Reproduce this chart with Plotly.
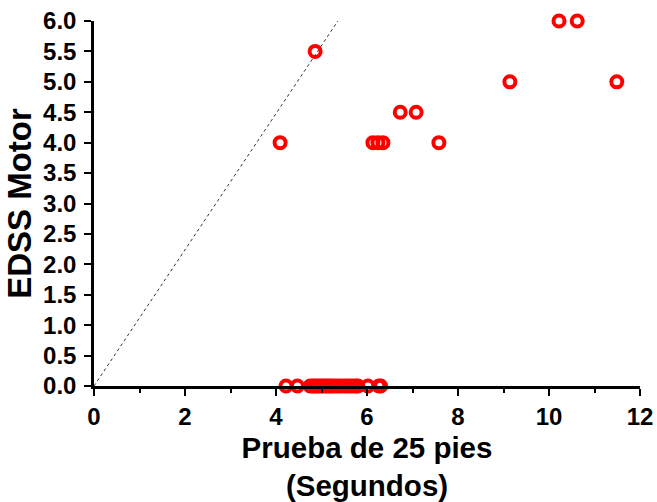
import plotly.graph_objects as go

# Data
x_upper = [4.09, 4.86, 6.13, 6.24, 6.35, 6.73, 7.08, 7.58, 9.14, 10.22, 10.62, 11.49]
y_upper = [4.0, 5.5, 4.0, 4.0, 4.0, 4.5, 4.5, 4.0, 5.0, 6.0, 6.0, 5.0]

x_zero = [4.22, 4.47, 4.75, 4.8, 4.85, 4.9, 4.95, 5.0, 5.05, 5.1, 5.15, 5.2,
          5.26, 5.32, 5.38, 5.45, 5.52, 5.58, 5.64, 5.7, 5.76, 5.8, 6.02, 6.26, 6.3]
y_zero = [0.0] * len(x_zero)

line_x = [0.0, 5.36]
line_y = [0.0, 6.0]

x_ticks = [0, 2, 4, 6, 8, 10, 12]
y_ticks = [0.0, 0.5, 1.0, 1.5, 2.0, 2.5, 3.0, 3.5, 4.0, 4.5, 5.0, 5.5, 6.0]

FAM = "Liberation Sans, Arial, sans-serif"

fig = go.Figure()
fig.add_trace(go.Scatter(x=line_x, y=line_y, mode="lines",
                         line=dict(color="#333333", width=1, dash="dot"),
                         hoverinfo="skip", showlegend=False))
fig.add_trace(go.Scatter(x=x_zero + x_upper, y=y_zero + y_upper, mode="markers",
                         marker=dict(symbol="circle-open", size=11, color="#ff0000",
                                     line=dict(width=4, color="#ff0000")),
                         cliponaxis=False, showlegend=False))

fig.update_layout(
    width=657, height=502,
    margin=dict(l=94, r=17, t=21, b=116),
    plot_bgcolor="white", paper_bgcolor="white",
    font=dict(family=FAM, color="black"),
    xaxis=dict(range=[0, 12], tickvals=x_ticks, ticktext=[f"<b>{v}</b>" for v in x_ticks],
               showline=True, linecolor="black", linewidth=2.5, ticks="outside",
               ticklen=7, tickwidth=2, tickcolor="black", showgrid=False, zeroline=False,
               automargin=False,
               tickfont=dict(size=24, family=FAM, color="black"),
               minor=dict(dtick=1, tick0=0, ticks="outside", ticklen=4, tickwidth=2,
                          tickcolor="black", showgrid=False),
               title=dict(text="<b>Prueba de 25 pies<br>(Segundos)</b>",
                          font=dict(size=29.5, family=FAM, color="black"), standoff=13)),
    yaxis=dict(range=[0, 6], tickvals=y_ticks, ticktext=[f"<b>{v:.1f}</b>" for v in y_ticks],
               showline=True, linecolor="black", linewidth=2.5, ticks="outside",
               ticklen=7, tickwidth=2, tickcolor="black", showgrid=False, zeroline=False,
               automargin=False, ticklabelstandoff=3,
               tickfont=dict(size=24, family=FAM, color="black"),
               title=dict(text="<b>EDSS Motor</b>",
                          font=dict(size=33, family=FAM, color="black"), standoff=2)),
)
fig.write_html("out.html", config={"displayModeBar": False},
               post_script="document.body.style.margin='0';")
